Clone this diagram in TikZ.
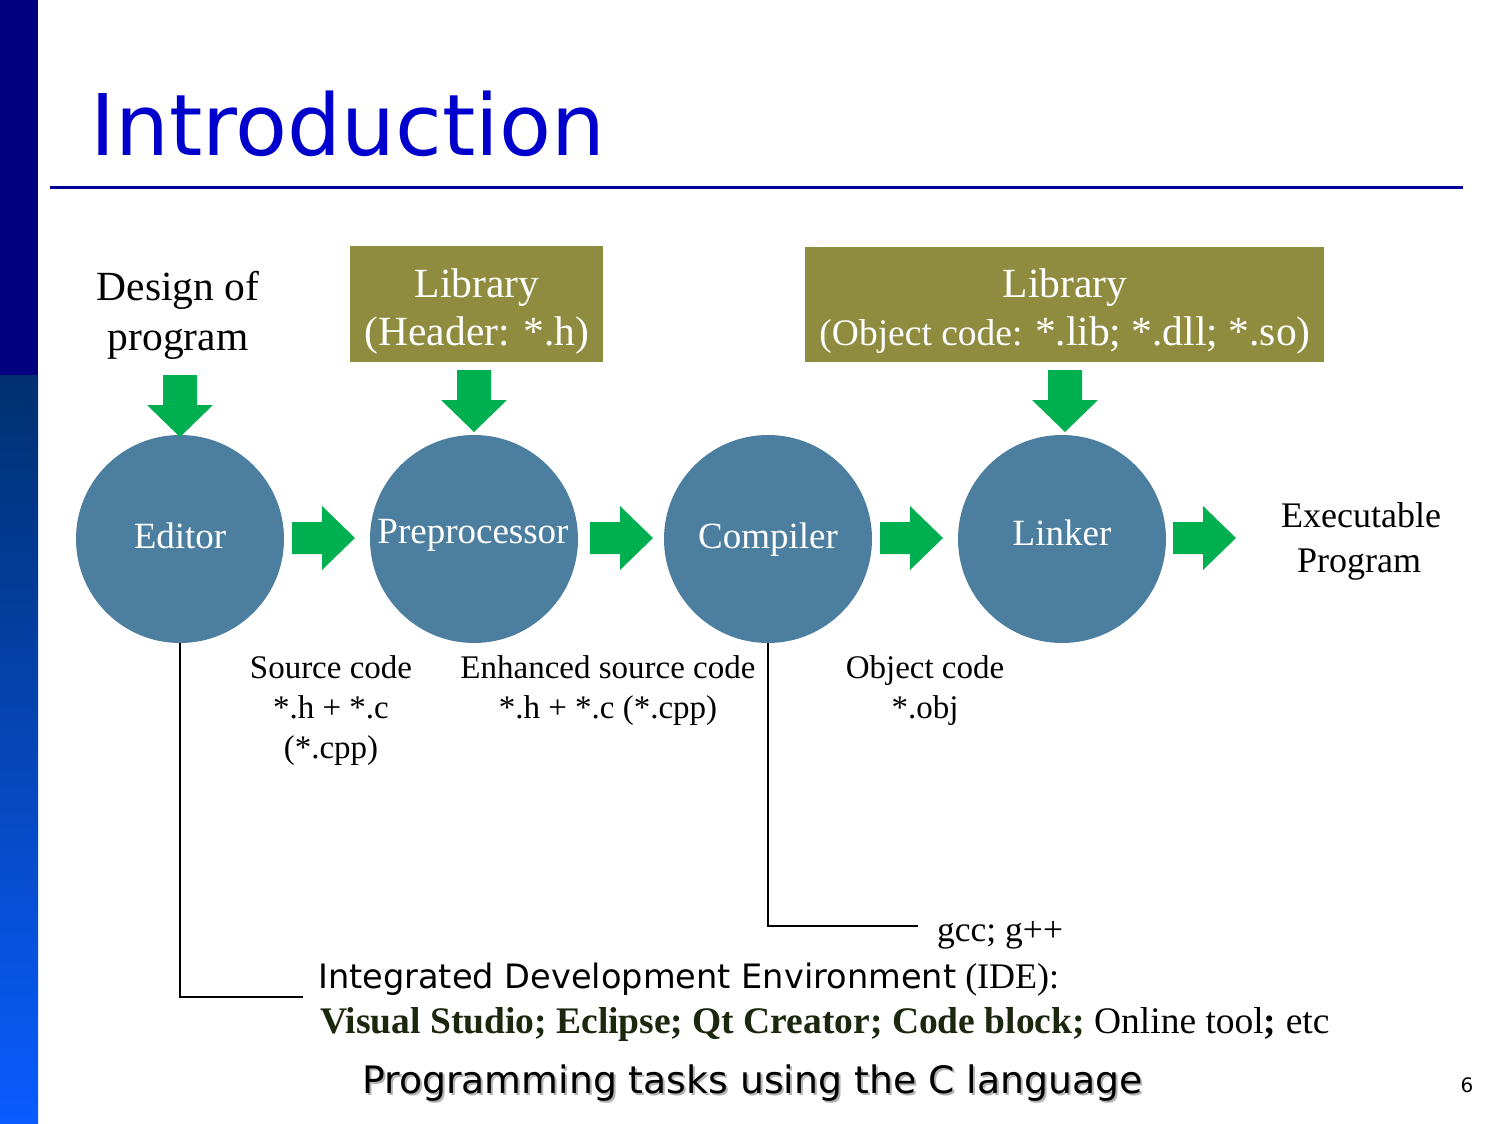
\documentclass[tikz,border=0pt]{standalone}
\usepackage{fontspec}
\setmainfont{Liberation Serif}
\newfontfamily\sansf{DejaVu Sans}
\definecolor{navybar}{RGB}{0,0,128}
\definecolor{bartop}{RGB}{0,48,112}
\definecolor{barbot}{RGB}{10,92,255}
\definecolor{titleblue}{RGB}{0,0,204}
\definecolor{ruleblue}{RGB}{0,0,150}
\definecolor{olivebox}{RGB}{143,140,64}
\definecolor{stageblue}{RGB}{76,126,160}
\definecolor{arrowgreen}{RGB}{0,176,80}
\definecolor{idegreen}{RGB}{28,40,14}
\tikzset{
  libbox/.style={rectangle, fill=olivebox, inner sep=0pt},
  stage/.style={circle, fill=stageblue, minimum size=208pt, inner sep=0pt},
  txt/.style={inner sep=0pt, anchor=base},
  big/.style={txt, font=\fontsize{41.5}{50}\selectfont},
  mid/.style={txt, font=\fontsize{37}{44}\selectfont},
  small/.style={txt, font=\fontsize{33}{40}\selectfont},
  conn/.style={draw=black, line width=1.5pt},
  downarrow/.pic={\fill[arrowgreen] (-17,-62) -- (17,-62) -- (17,-32) -- (33,-32) -- (0,0) -- (-33,-32) -- (-17,-32) -- cycle;},
  rightarrow/.pic={\fill[arrowgreen] (-63,-16) -- (-33,-16) -- (-33,-32) -- (0,0) -- (-33,32) -- (-33,16) -- (-63,16) -- cycle;}
}
\begin{document}
\begin{tikzpicture}[x=1pt,y=-1pt]
\useasboundingbox (0,0) rectangle (1499,1124);
\fill[white] (0,0) rectangle (1499,1124);
% side bar
\fill[navybar] (0,0) rectangle (38,375);
\shade[top color=bartop, bottom color=barbot] (0,375) rectangle (38,1124);
% title
\node[txt, anchor=base west, text=titleblue, font=\sansf\fontsize{85}{92}\selectfont] (title) at (90,155) {Introduction};
\draw[ruleblue, line width=3pt] (50,187) -- (1463,187);

% inputs
\node[big] (design1) at (178,300) {Design of};
\node[big] (design2) at (178,350) {program};
\node[libbox, minimum width=253pt, minimum height=116pt] (lib1) at (476.5,304) {};
\node[big, text=white] at (477,297) {Library};
\node[big, text=white] at (477,345) {(Header: *.h)};
\node[libbox, minimum width=519pt, minimum height=115pt] (lib2) at (1064.5,304.5) {};
\node[big, text=white] at (1065,297) {Library};
\node[big, text=white] at (1065,345) {{\fontsize{37.5}{44}\selectfont(Object code: }*.lib; *.dll; *.so)};

% stages
\node[stage] (editor) at (180,539) {};
\node[stage] (prep) at (474,539) {};
\node[stage] (comp) at (768,539) {};
\node[stage] (linker) at (1062,539) {};
\node[mid, text=white] at (180,548) {Editor};
\node[mid, text=white] at (473,543) {Preprocessor};
\node[mid, text=white] at (768,548) {Compiler};
\node[mid, text=white] at (1062,545) {Linker};
\node[txt, font=\fontsize{36}{44}\selectfont] (exe1) at (1361,527) {Executable};
\node[txt, font=\fontsize{36}{44}\selectfont] (exe2) at (1359,572) {Program};

% green arrows
\pic at (180,437) {downarrow};
\pic at (474,432) {downarrow};
\pic at (1065,432) {downarrow};
\pic at (355,538) {rightarrow};
\pic at (653,538) {rightarrow};
\pic at (943,538) {rightarrow};
\pic at (1236,538) {rightarrow};

% intermediate labels
\node[small] at (331,678) {Source code};
\node[small] at (331,718) {*.h + *.c};
\node[small] at (331,758) {(*.cpp)};
\node[small] at (608,678) {Enhanced source code};
\node[small] at (608,718) {*.h + *.c (*.cpp)};
\node[small] at (925,678) {Object code};
\node[small] at (925,718) {*.obj};

% tools
\coordinate (gccend) at (918,926);
\coordinate (ideend) at (303,997);
\draw[conn] (comp.south) |- (gccend);
\draw[conn] (editor.south) |- (ideend);
\node[txt, anchor=base west, font=\fontsize{35.5}{42}\selectfont] (gcc) at (937,941) {gcc; g++};
\node[txt, anchor=base west] (ide1) at (318,988) {{\sansf\fontsize{33.6}{40}\selectfont Integrated Development Environment}{\fontsize{36}{40}\selectfont\ (IDE):}};
\node[txt, anchor=base west, font=\fontsize{37.5}{44}\selectfont] (ide2) at (320,1033) {\textcolor{idegreen}{\bfseries Visual Studio; Eclipse; Qt Creator; Code block;} Online tool\textbf{;} etc};

% footer
\node[txt, anchor=base west, text=black!30, font=\sansf\fontsize{37.8}{44}\selectfont] at (364,1095) {Programming tasks using the C language};
\node[txt, anchor=base west, font=\sansf\fontsize{37.8}{44}\selectfont] (footer) at (362,1093) {Programming tasks using the C language};
\node[txt, font=\sansf\fontsize{20}{24}\selectfont] (pageno) at (1467,1092) {6};
\end{tikzpicture}
\end{document}
